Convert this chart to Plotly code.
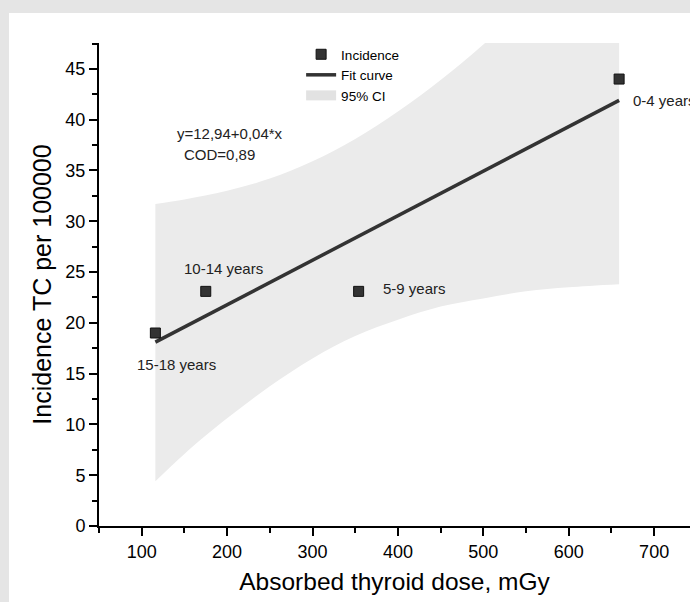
import plotly.graph_objects as go

# ---- data ----
dose = [116, 175, 354, 659]
incidence = [19.0, 23.1, 23.1, 44.0]
age_groups = ["15-18 years", "10-14 years", "5-9 years", "0-4 years"]

fit_dose = [116, 659]
fit_incidence = [18.1, 41.9]

ci_dose = [116, 150, 200, 250, 300, 350, 400, 450, 500, 550, 600, 659]
ci_upper = [31.7, 32.15, 33.0, 34.2, 35.9, 38.1, 40.8, 43.9, 47.4, 51.2, 55.1, 59.9]
ci_lower = [4.4, 7.1, 10.6, 13.75, 16.5, 18.7, 20.3, 21.6, 22.4, 23.1, 23.5, 23.8]

equation_lines = ["y=12,94+0,04*x", "COD=0,89"]
x_ticks = [100, 200, 300, 400, 500, 600, 700]
y_ticks = [0, 5, 10, 15, 20, 25, 30, 35, 40, 45]

FONT = "Liberation Sans, Arial, sans-serif"
BAND = "#ebebeb"
DARK = "#333333"

fig = go.Figure()

# confidence band
fig.add_trace(go.Scatter(x=ci_dose, y=ci_lower, mode="lines", line=dict(width=0, shape="spline"),
                         showlegend=False, hoverinfo="skip"))
fig.add_trace(go.Scatter(x=ci_dose, y=ci_upper, mode="lines", line=dict(width=0, shape="spline"),
                         fill="tonexty", fillcolor=BAND, showlegend=False, hoverinfo="skip"))

# fit line
fig.add_trace(go.Scatter(x=fit_dose, y=fit_incidence, mode="lines", name="Fit curve",
                         line=dict(color=DARK, width=3.5), legendrank=2))

# data points
fig.add_trace(go.Scatter(x=dose, y=incidence, mode="markers", name="Incidence",
                         marker=dict(symbol="square", size=10, color=DARK,
                                     line=dict(color="#111111", width=1)),
                         legendrank=1))

# legend entry for the band
fig.add_trace(go.Scatter(x=[None], y=[None], mode="lines", name="95% CI",
                         line=dict(color="#e2e2e2", width=10), legendrank=3))

# point labels
label_offsets = [(21, -31, "center"), (18, 23, "center"), (22, 3, "left"), (12, -21, "left")]
for xv, yv, txt, (dx, dy, anc) in zip(dose, incidence, age_groups, label_offsets):
    fig.add_annotation(x=xv, y=yv, text=txt, showarrow=False, xshift=dx, yshift=dy,
                       xanchor=anc, font=dict(family=FONT, size=15, color="#222222"))

# equation
fig.add_annotation(x=139.5, y=38.67, text=equation_lines[0], showarrow=False, xanchor="left",
                   font=dict(family=FONT, size=15, color="#222222"))
fig.add_annotation(x=147.7, y=36.6, text=equation_lines[1], showarrow=False, xanchor="left",
                   font=dict(family=FONT, size=15, color="#222222"))

# white panel on grey page
fig.add_shape(type="rect", xref="paper", yref="paper", x0=-0.1523, x1=1.2, y0=-0.2, y1=1.0621,
              fillcolor="white", line=dict(width=0), layer="below")

axis_common = dict(showline=True, linewidth=2, linecolor="black", showgrid=False, zeroline=False,
                   ticks="outside", ticklen=8, tickwidth=2, tickcolor="black",
                   tickfont=dict(family=FONT, size=18, color="black"))

fig.update_layout(
    width=690, height=602, autosize=False,
    margin=dict(l=99, r=0, t=43, b=76),
    paper_bgcolor="#e5e5e5", plot_bgcolor="rgba(0,0,0,0)",
    font=dict(family=FONT, color="black"),
    xaxis=dict(range=[50, 742], tickvals=x_ticks,
               minor=dict(dtick=50, tick0=0, ticks="outside", ticklen=5, tickwidth=2, tickcolor="black"),
               title=dict(text="Absorbed thyroid dose, mGy", font=dict(family=FONT, size=24.5), standoff=12),
               **axis_common),
    yaxis=dict(range=[0, 47.55], tickvals=y_ticks,
               minor=dict(dtick=2.5, tick0=0, ticks="outside", ticklen=5, tickwidth=2, tickcolor="black"),
               title=dict(text="Incidence TC per 100000", font=dict(family=FONT, size=25), standoff=7),
               **axis_common),
    legend=dict(x=0.342, y=1.0083, xanchor="left", yanchor="top", bgcolor="rgba(0,0,0,0)",
                traceorder="normal",
                font=dict(family=FONT, size=13.5, color="black"), tracegroupgap=0),
    showlegend=True,
)

fig.write_html("out.html")
